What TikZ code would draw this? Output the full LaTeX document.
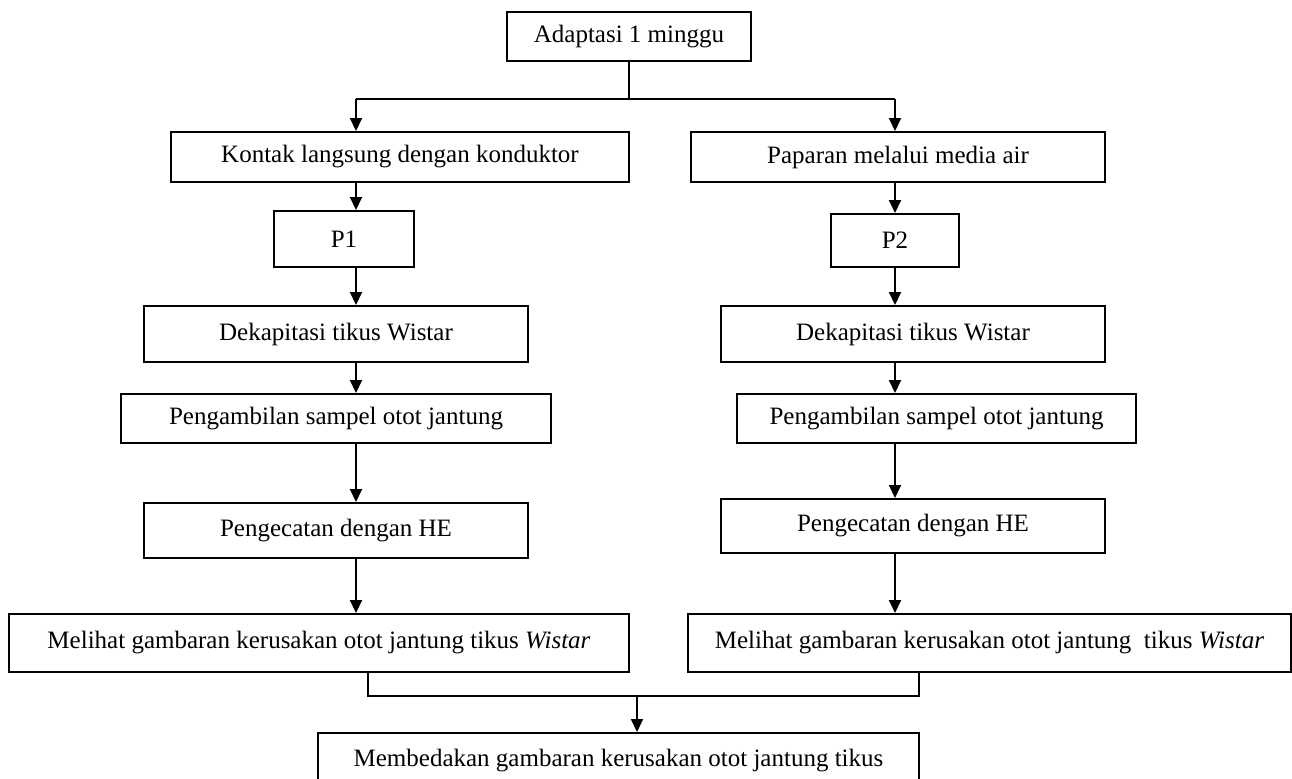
\documentclass[tikz,border=0pt]{standalone}
\usepackage{fontspec}
\setmainfont{Liberation Serif}
\usetikzlibrary{arrows.meta}
\begin{document}
\begin{tikzpicture}[x=0.5pt,y=-0.5pt] % 1 unit = 1 px, y goes down
\tikzstyle{mybox} = [draw, line width=1pt, inner sep=0pt, font=\fontsize{12.5}{15}\selectfont] % box style
\tikzstyle{myline} = [line width=1pt] % plain connector
\tikzstyle{myarrow} = [line width=1pt, -{Triangle[length=6.5pt,width=6pt]}] % connector with arrow

\useasboundingbox (0,0) rectangle (1292,778);

\node[mybox, minimum width=122pt, minimum height=24.5pt] (adapt) at (629,36.5) {Adaptasi 1 minggu};

% left branch
\node[mybox, minimum width=229pt, minimum height=25pt] (kontak) at (400,157) {Kontak langsung dengan konduktor};
\node[mybox, minimum width=70pt, minimum height=28pt] (pa) at (344,239) {P1};
\node[mybox, minimum width=192pt, minimum height=28pt] (dekA) at (336,334) {Dekapitasi tikus Wistar};
\node[mybox, minimum width=215pt, minimum height=24.5pt] (ambA) at (336,418.5) {Pengambilan sampel otot jantung};
\node[mybox, minimum width=192pt, minimum height=27.5pt] (catA) at (336,530.5) {Pengecatan dengan HE};
\node[mybox, minimum width=310pt, minimum height=29pt] (lihatA) at (319,643) {Melihat gambaran kerusakan otot jantung tikus \textit{Wistar}};

% right branch
\node[mybox, minimum width=207pt, minimum height=25pt] (paparan) at (898,157) {Paparan melalui media air};
\node[mybox, minimum width=64pt, minimum height=26.5pt] (pb) at (895,240.5) {P2};
\node[mybox, minimum width=192pt, minimum height=28pt] (dekB) at (913,334) {Dekapitasi tikus Wistar};
\node[mybox, minimum width=199.5pt, minimum height=24.5pt] (ambB) at (936.5,418.5) {Pengambilan sampel otot jantung};
\node[mybox, minimum width=192pt, minimum height=27pt] (catB) at (913,526) {Pengecatan dengan HE};
\node[mybox, minimum width=301.5pt, minimum height=29pt] (lihatB) at (989.5,643) {Melihat gambaran kerusakan otot jantung\ \ tikus \textit{Wistar}};

\node[mybox, minimum width=300.5pt, minimum height=28pt] (beda) at (618.5,761) {Membedakan gambaran kerusakan otot jantung tikus};

% connectors
\coordinate (split) at (629,99);
\coordinate (kiri) at (356,99);
\coordinate (kanan) at (895,99);
\draw[myline] (adapt.south) -- (split);
\draw[myline] (kiri) -- (kanan);
\draw[myarrow] (kiri) -- (kontak.north -| kiri);
\draw[myarrow] (kanan) -- (paparan.north -| kanan);

\foreach \a/\b in {kontak/pa, pa/dekA, dekA/ambA, ambA/catA, catA/lihatA}
  \draw[myarrow] (\a.south -| kiri) -- (\b.north -| kiri);
\foreach \a/\b in {paparan/pb, pb/dekB, dekB/ambB, ambB/catB, catB/lihatB}
  \draw[myarrow] (\a.south -| kanan) -- (\b.north -| kanan);

\coordinate (ki) at (368,696);
\coordinate (ka) at (919,696);
\coordinate (gabung) at (637,696);
\draw[myline] (lihatA.south -| ki) -- (ki) -- (ka) -- (lihatB.south -| ka);
\draw[myarrow] (gabung) -- (beda.north -| gabung);
\end{tikzpicture}
\end{document}
